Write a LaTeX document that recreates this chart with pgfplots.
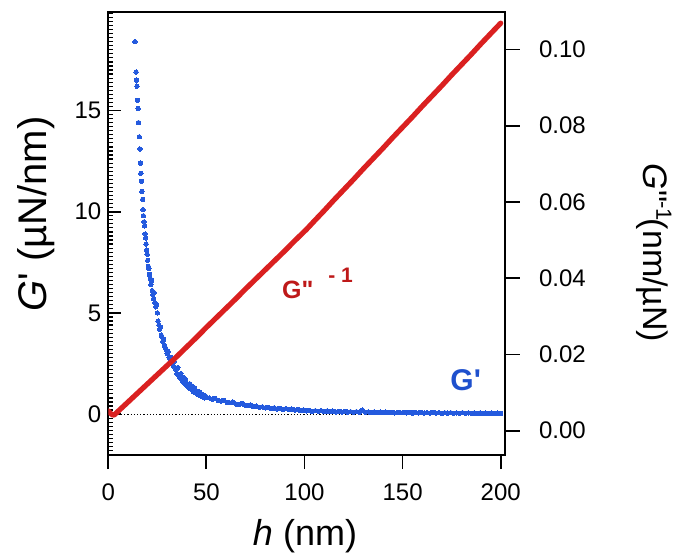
\documentclass[border=0pt]{standalone}
\usepackage{pgfplots}
\pgfplotsset{compat=1.18}
\usepackage{fontspec}
\setmainfont{Liberation Sans}[Ligatures=TeXOff]
\definecolor{gred}{RGB}{218,32,32}
\definecolor{gredtxt}{RGB}{190,25,25}
\definecolor{gblue}{RGB}{36,90,222}
\definecolor{gbluetxt}{RGB}{30,80,205}
\pgfplotsset{geom/.style={at={(54.15pt,49.5pt)}, anchor=south west, scale only axis,
  width=198.35pt, height=221.65pt, xmin=0, xmax=202.2,
  axis line style={line width=0.9pt, black},
  major tick style={line width=0.9pt, black},
  /pgf/number format/assume math mode=true,
  tick label style={font=\fontsize{12}{14}\selectfont}}}
\begin{document}
\begin{tikzpicture}
\useasboundingbox (0,0) rectangle (338.5pt,277pt);
% left axis box, labels and blue data
\begin{axis}[geom, ymin=-2.02, ymax=19.88,
  xtick=\empty, ytick={0,5,10,15}, ytick pos=left,
  tick align=inside, major tick length=6.5pt, clip=false]
% inward ticks of the left axis (both ends given in axis units)
\pgfplotsinvokeforeach{-2,-1.8,...,19.8}{\draw[black, line width=0.6pt] (axis cs:0,#1) -- (axis cs:2.35,#1);}
\pgfplotsinvokeforeach{0,5,10,15}{\draw[black, line width=0.9pt] (axis cs:0,#1) -- (axis cs:6.6,#1);}
\addplot[black, densely dotted, line width=0.6pt] coordinates {(0,0) (202.2,0)};
\addplot[gblue, only marks, mark=*, mark size=1.1pt, mark options={solid, draw=gblue, fill=gblue, line width=0pt}] coordinates {
(13.6,18.4) (14.2,16.9) (14.4,16.5) (14.6,16.2) (14.9,15.5) (15.2,15.1) (15.4,14.4) (15.8,13.7)
(16.1,13.1) (16.4,12.4) (16.6,11.9) (16.9,11.5) (17.1,11.0) (17.5,10.6) (17.7,10.1) (17.9,9.8)
(18.2,9.5) (18.5,9.3) (18.8,8.9) (19.0,8.7) (19.3,8.4) (19.5,8.1) (19.8,7.9) (20.1,7.6)
(20.4,7.3) (20.7,7.2) (21.0,6.9) (21.4,6.7) (21.7,6.4) (22.0,6.6) (22.4,6.1) (22.7,5.9)
(23.1,5.7) (23.4,6.0) (23.8,5.5) (24.2,5.3) (24.6,5.4) (25.0,5.0) (25.4,4.6) (25.8,4.4)
(26.2,4.2) (26.6,4.3) (27.0,3.9) (27.4,3.8) (27.8,3.6) (28.2,3.7) (28.6,3.4) (29.0,3.3)
(29.5,3.2) (30.0,3.0) (30.5,3.1) (31.0,2.8) (31.5,2.7) (32.0,2.8) (32.5,2.5) (33.0,2.4)
(33.5,2.6) (34.0,2.3) (34.5,2.2) (35.0,2.0) (35.5,2.3) (36.0,1.9) (36.5,1.8) (37.0,2.0)
(37.5,1.7) (38.0,1.6) (38.5,1.8) (39.0,1.5) (39.5,1.7) (40.0,1.4) (40.5,1.45) (41.0,1.3)
(41.5,1.5) (42.0,1.25) (42.5,1.4) (43.0,1.2) (43.5,1.1) (44.0,1.3) (44.5,1.05) (45.0,1.15)
(45.5,1.0) (46.0,0.95) (46.5,1.1) (47.0,0.9) (47.5,1.0) (48.0,0.85) (48.5,0.95) (49.0,0.8)
(49.5,0.9) (50.0,0.82)
(51.5,0.80) (53.0,0.74) (54.5,0.78) (56.0,0.68) (57.5,0.64) (59.0,0.67) (60.5,0.58) (62.0,0.56)
(63.5,0.60) (65.0,0.50) (66.5,0.48) (68.0,0.53) (69.5,0.45) (71.0,0.42) (72.5,0.46) (74.0,0.38)
(75.5,0.40) (77.0,0.34) (78.5,0.36) (80.0,0.31) (81.5,0.33) (83.0,0.28) (84.5,0.31) (86.0,0.26)
(87.5,0.29) (89.0,0.24) (90.5,0.27) (92.0,0.22) (93.5,0.25) (95.0,0.20) (96.5,0.23) (98.0,0.18)
(99.5,0.21) (101.0,0.16) (102.5,0.19) (104.0,0.12) (105.5,0.17) (107.0,0.14) (108.5,0.17) (110.0,0.13)
(111.5,0.16) (113.0,0.12) (114.5,0.15) (116.0,0.11) (117.5,0.14) (119.0,0.10) (120.5,0.13) (122.0,0.10)
(123.5,0.12) (125.0,0.09) (126.5,0.12) (128.0,0.10) (129.5,0.20) (131.0,0.09) (132.5,0.11) (134.0,0.08)
(135.5,0.11) (137.0,0.08) (138.5,0.10) (140.0,0.07) (141.5,0.10) (143.0,0.07) (144.5,0.09) (146.0,0.06)
(147.5,0.09) (149.0,0.07) (150.5,0.09) (152.0,0.06) (153.5,0.08) (155.0,0.05) (156.5,0.08) (158.0,0.06)
(159.5,0.08) (161.0,0.05) (162.5,0.07) (164.0,0.05) (165.5,0.08) (167.0,0.05) (168.5,0.07) (170.0,0.04)
(171.5,0.07) (173.0,0.05) (174.5,0.07) (176.0,0.04) (177.5,0.06) (179.0,0.04) (180.5,0.07) (182.0,0.04)
(183.5,0.06) (185.0,0.04) (186.5,0.06) (188.0,0.03) (189.5,0.06) (191.0,0.04) (192.5,0.05) (194.0,0.03)
(195.5,0.05) (197.0,0.03) (198.5,0.05) (200.0,0.03)};
\node[anchor=base west, inner sep=0pt, text=gredtxt] at (axis cs:88.4,5.72)
  {{\fontsize{12.5}{15}\selectfont\bfseries G"}\kern7.5pt\raisebox{8pt}{\fontsize{10.5}{12}\selectfont\bfseries - 1}};
\node[anchor=base west, inner sep=0pt, text=gbluetxt, font=\fontsize{15}{18}\selectfont\bfseries] at (axis cs:174.2,1.15) {G'};
\end{axis}
% bottom x axis
\begin{axis}[geom, ymin=0, ymax=1, axis x line*=bottom, axis y line=none,
  xtick={0,50,100,150,200}, ytick=\empty, tick align=outside, major tick length=7pt,
  xticklabel style={yshift=-4pt}]
\addplot[draw=none] coordinates {(0,0.5)};
\end{axis}
% right axis with red data
\begin{axis}[geom, ymin=-0.00637, ymax=0.1099, axis y line*=right, axis x line=none,
  ytick={0,0.02,0.04,0.06,0.08,0.1}, xtick=\empty, tick align=outside, major tick length=7.5pt,
  scaled y ticks=false,
  yticklabel style={xshift=6pt, /pgf/number format/.cd, fixed, fixed zerofill, precision=2}]
\addplot[gred, line width=2.6pt, line join=round, line cap=round] coordinates {
(0,0.0052) (1,0.0046) (2,0.0042) (3,0.0041) (5,0.0051) (10,0.0075) (15,0.0099) (20,0.0123)
(25,0.0147) (30,0.0171) (33,0.0185) (35,0.0195) (40,0.0220) (45,0.0245) (50,0.0271) (55,0.0296)
(60,0.0321) (65,0.0346) (70,0.0372) (75,0.0397) (80,0.0422) (85,0.0447) (90,0.0472) (95,0.0498)
(101,0.0528) (105,0.0550) (110,0.0577) (115,0.0605) (120,0.0632) (125,0.0659) (130,0.0687) (135,0.0714)
(140,0.0741) (145,0.0769) (150,0.0796) (155,0.0823) (160,0.0851) (165,0.0878) (170,0.0905) (175,0.0933)
(180,0.0960) (185,0.0987) (190,0.1015) (195,0.1042) (200,0.1069)};
\end{axis}
% axis labels
\node[rotate=90, inner sep=0pt, font=\fontsize{20}{24}\selectfont] at (18pt,170pt) {\textit{G}' (µN/nm)};
\node[inner sep=0pt, font=\fontsize{18}{22}\selectfont] at (152.5pt,8.7pt) {\textit{h} (nm)};
\node[rotate=-90, inner sep=0pt, font=\fontsize{17}{20}\selectfont] at (327pt,150.5pt)
  {\textit{G}"\kern-0.5pt\raisebox{6.5pt}{\fontsize{11}{13}\selectfont -1}\kern-1pt(nm/µN)};
\end{tikzpicture}
\end{document}
